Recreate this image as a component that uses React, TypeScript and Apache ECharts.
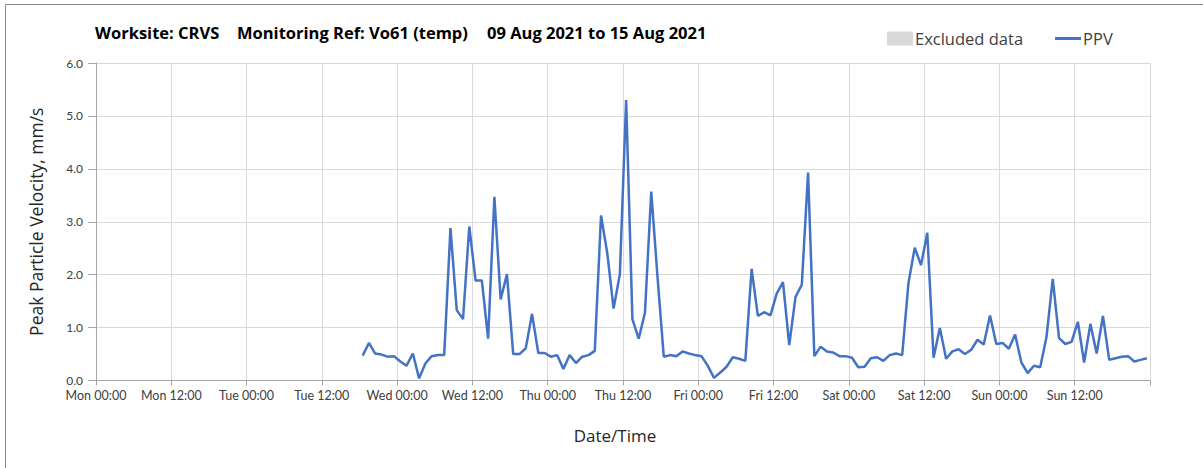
import React, { useEffect, useRef } from "react";
import * as echarts from "echarts";

// x-axis tick labels, one every 12 hours from Mon 09 Aug 2021 00:00
const tickLabels = [
  "Mon 00:00", "Mon 12:00", "Tue 00:00", "Tue 12:00", "Wed 00:00", "Wed 12:00",
  "Thu 00:00", "Thu 12:00", "Fri 00:00", "Fri 12:00", "Sat 00:00", "Sat 12:00",
  "Sun 00:00", "Sun 12:00",
];

// hourly PPV readings (mm/s), first reading at Tue 18:30 (hour 42.5 of the week)
const firstReadingHour = 42.5;
const ppv = [
  0.47, 0.71, 0.51, 0.49, 0.45, 0.46, 0.36, 0.28, 0.51, 0.04,
  0.32, 0.46, 0.48, 0.48, 2.88, 1.33, 1.16, 2.91, 1.89, 1.89,
  0.79, 3.47, 1.53, 2.01, 0.50, 0.50, 0.61, 1.26, 0.52, 0.52,
  0.45, 0.48, 0.22, 0.48, 0.33, 0.45, 0.48, 0.56, 3.12, 2.40,
  1.36, 2.01, 5.30, 1.16, 0.79, 1.28, 3.57, 1.96, 0.45, 0.48,
  0.46, 0.55, 0.51, 0.48, 0.46, 0.28, 0.05, 0.15, 0.26, 0.44,
  0.41, 0.37, 2.11, 1.22, 1.29, 1.23, 1.64, 1.86, 0.67, 1.58,
  1.81, 3.93, 0.46, 0.64, 0.55, 0.53, 0.46, 0.46, 0.43, 0.25,
  0.26, 0.42, 0.44, 0.37, 0.48, 0.51, 0.48, 1.84, 2.51, 2.18,
  2.79, 0.43, 0.99, 0.41, 0.55, 0.59, 0.50, 0.58, 0.77, 0.68,
  1.23, 0.69, 0.71, 0.60, 0.87, 0.34, 0.14, 0.28, 0.25, 0.82,
  1.92, 0.80, 0.69, 0.73, 1.11, 0.34, 1.07, 0.51, 1.22, 0.39,
  0.42, 0.45, 0.46, 0.36, 0.39, 0.42,
];

const excluded: number[][] = [];

const titleParts = [
  "Worksite: CRVS",
  "Monitoring Ref: Vo61 (temp)",
  "09 Aug 2021 to 15 Aug 2021",
];

const FONT = "'Open Sans', 'Noto Sans', sans-serif";
const TICK_FONT = "Lato, 'Noto Sans', sans-serif";

export default function App() {
  const ref = useRef<HTMLDivElement>(null);
  useEffect(() => {
    if (!ref.current) return;
    const chart = echarts.init(ref.current, undefined, { renderer: "svg" });
    const data = ppv.map((v, i) => [firstReadingHour + i, v]);
    const titleX = [95, 237, 487];
    chart.setOption({
      animation: false,
      backgroundColor: "#ffffff",
      textStyle: { fontFamily: FONT },
      title: titleParts.map((t, i) => ({
        text: t,
        left: titleX[i],
        top: 24,
        padding: 0,
        textStyle: { fontFamily: FONT, fontSize: 16.5, fontWeight: "bold", color: "#000000" },
      })),
      graphic: [
        {
          type: "rect",
          shape: { x: 5.5, y: 4.5, width: 1300, height: 600 },
          style: { fill: "none", stroke: "#8c8c8c", lineWidth: 1 },
          silent: true,
          z: -10,
        },
      ],
      legend: {
        left: 887,
        top: 30,
        itemWidth: 26,
        itemHeight: 14,
        itemGap: 32,
        padding: 0,
        textStyle: { fontFamily: FONT, fontSize: 16.5, color: "#404040", padding: [0, 0, 0, -3] },
        data: [
          { name: "Excluded data", icon: "rect", itemStyle: { color: "#d9d9d9" } },
          { name: "PPV", icon: "path://M0,0H26V3H0Z", itemStyle: { color: "#4472C4" } },
        ],
      },
      grid: { left: 96, top: 63, width: 1054, height: 317.5, containLabel: false },
      xAxis: {
        type: "value",
        min: 0,
        max: 168,
        interval: 12,
        name: "Date/Time",
        nameLocation: "middle",
        nameGap: 46,
        nameTextStyle: { fontFamily: FONT, fontSize: 17, color: "#262626", padding: [0, 16, 0, 0] },
        axisLine: { show: true, lineStyle: { color: "#a6a6a6", width: 1 } },
        axisTick: { show: true, length: 5, lineStyle: { color: "#a6a6a6" } },
        axisLabel: {
          margin: 8,
          fontFamily: TICK_FONT,
          fontSize: 12.5,
          color: "#404040",
          formatter: (v: number) => tickLabels[Math.round(v / 12)] ?? "",
        },
        splitLine: { show: true, lineStyle: { color: "#d9d9d9", width: 1 } },
      },
      yAxis: {
        type: "value",
        min: 0,
        max: 6,
        interval: 1,
        name: "Peak Particle Velocity, mm/s",
        nameLocation: "middle",
        nameRotate: 90,
        nameGap: 51,
        nameTextStyle: { fontFamily: FONT, fontSize: 17.5, color: "#262626" },
        axisLine: { show: true, lineStyle: { color: "#a6a6a6", width: 1 } },
        axisTick: { show: true, length: 8, lineStyle: { color: "#a6a6a6" } },
        axisLabel: {
          margin: 13,
          fontFamily: TICK_FONT,
          fontSize: 12,
          color: "#404040",
          formatter: (v: number) => v.toFixed(1),
        },
        splitLine: { show: true, lineStyle: { color: "#d9d9d9", width: 1 } },
      },
      series: [
        {
          name: "Excluded data",
          type: "bar",
          data: excluded,
          itemStyle: { color: "#d9d9d9" },
        },
        {
          name: "PPV",
          type: "line",
          data,
          symbol: "none",
          showSymbol: false,
          lineStyle: { color: "#4472C4", width: 2.5 },
          itemStyle: { color: "#4472C4" },
          z: 5,
        },
      ],
    });
    return () => chart.dispose();
  }, []);
  return (
    <div
      ref={ref}
      style={{ position: "fixed", left: 0, top: 0, width: 1203, height: 468, background: "#fff" }}
    />
  );
}
